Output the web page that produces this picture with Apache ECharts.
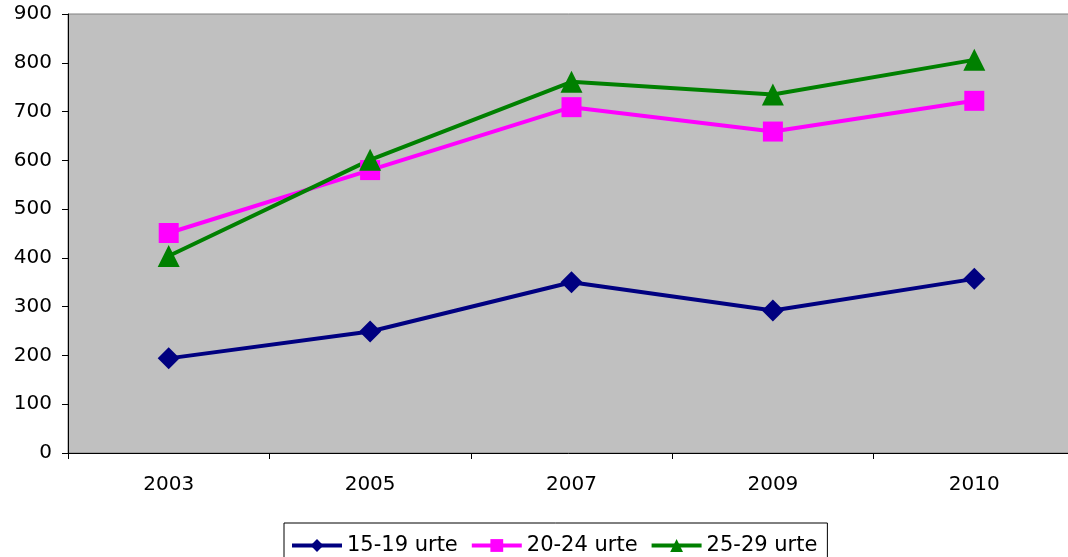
<!DOCTYPE html>
<html>
<head>
<meta charset="utf-8">
<script src="https://cdn.jsdelivr.net/npm/echarts@6/dist/echarts.min.js"></script>
<style>
  html, body { margin: 0; padding: 0; background: #fff; }
  #chart { width: 1068px; height: 557px; }
</style>
</head>
<body>
<div id="chart"></div>
<script>
// urteak eta adin-taldeak
const years = ['2003', '2005', '2007', '2009', '2010']
const age15to19 = [194, 249, 350, 292, 357]
const age20to24 = [451, 580, 709, 659, 722]
const age25to29 = [404, 601, 761, 735, 806]
const yTicks = { min: 0, max: 900, step: 100 }

const font = 'DejaVu Sans, Verdana, sans-serif'

function lineSeries(name, data, color, symbol, size) {
  return {
    name,
    type: 'line',
    data,
    symbol,
    symbolSize: size,
    showAllSymbol: true,
    lineStyle: { color, width: 4 },
    itemStyle: { color, borderWidth: 0 },
    emphasis: { disabled: true }
  }
}

const chart = echarts.init(document.getElementById('chart'))
chart.setOption({
  animation: false,
  backgroundColor: '#ffffff',
  grid: {
    left: 68, top: 14, width: 1007, bottom: 104,
    outerBoundsMode: 'none',
    show: true,
    backgroundColor: '#C0C0C0',
    borderColor: '#808080',
    borderWidth: 1
  },
  xAxis: {
    type: 'category',
    data: years,
    boundaryGap: true,
    axisLine: { lineStyle: { color: '#000', width: 1 } },
    axisTick: { show: true, length: 6, lineStyle: { color: '#000' } },
    axisLabel: { color: '#000', fontSize: 20, fontFamily: font, margin: 22 },
    splitLine: { show: false }
  },
  yAxis: {
    type: 'value',
    min: yTicks.min,
    max: yTicks.max,
    interval: yTicks.step,
    axisLine: { show: true, lineStyle: { color: '#000', width: 1 } },
    axisTick: { show: true, length: 6, lineStyle: { color: '#000' } },
    axisLabel: { color: '#000', fontSize: 20, fontFamily: font, margin: 16 },
    splitLine: { show: false }
  },
  legend: {
    left: 284,
    top: 523,
    orient: 'horizontal',
    itemWidth: 50,
    itemHeight: 16,
    itemGap: 12,
    padding: [12, 10, 10, 6],
    borderColor: '#000',
    borderWidth: 1,
    backgroundColor: '#fff',
    lineStyle: { width: 4 },
    textStyle: { color: '#000', fontSize: 21, fontFamily: font },
    data: ['15-19 urte', '20-24 urte', '25-29 urte']
  },
  series: [
    lineSeries('15-19 urte', age15to19, '#000080', 'diamond', [22, 22]),
    lineSeries('20-24 urte', age20to24, '#FF00FF', 'rect', 20),
    lineSeries('25-29 urte', age25to29, '#008000', 'triangle', 22)
  ]
})
</script>
</body>
</html>
